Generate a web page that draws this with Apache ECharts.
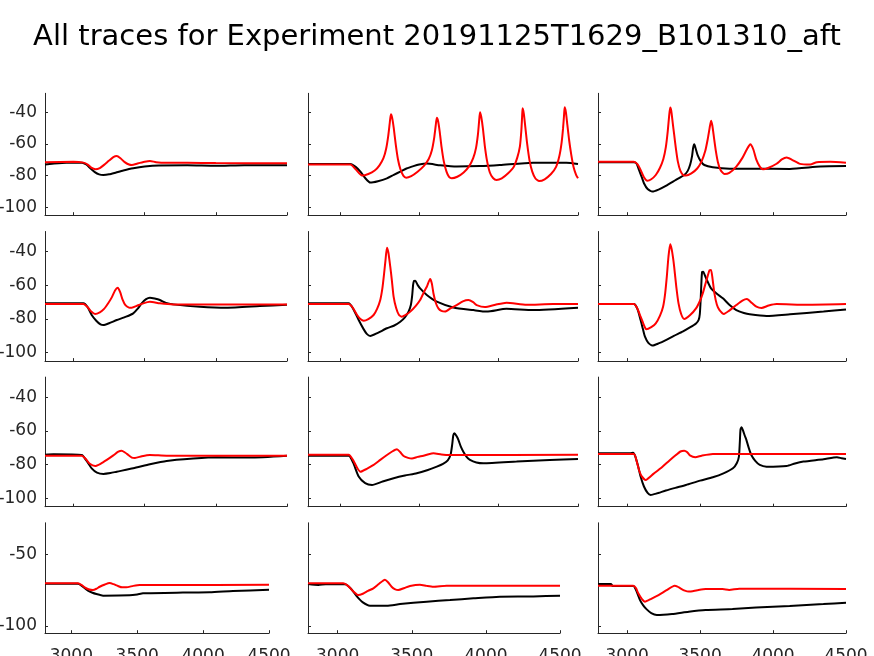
<!DOCTYPE html>
<html>
<head>
<meta charset="utf-8">
<script src="https://cdn.jsdelivr.net/npm/echarts@6/dist/echarts.min.js"></script>
<style>html,body{margin:0;padding:0;background:#fff;}#c{width:874px;height:656px;}</style>
</head>
<body>
<div id="c"></div>
<script>
const titleText = 'All traces for Experiment 20191125T1629_B101310_aft';
const xTicks = [3000, 3500, 4000, 4500];
const yTicksUpper = [-100, -80, -60, -40];
const yTicksLower = [-100, -50];

// Row 1
const black_r1c1 = [[2800,-73],[2850,-72.5],[2950,-71.8],[3060,-71.8],[3090,-73],[3120,-75.5],[3150,-77.8],[3180,-79.2],[3210,-79.6],[3250,-79.2],[3300,-78],[3350,-76.8],[3420,-75.4],[3500,-74.3],[3600,-73.6],[3800,-73.5],[4000,-73.8],[4200,-73.4],[4500,-73.4]];
const red_r1c1 = [[2800,-71.5],[3000,-71.3],[3070,-71.8],[3100,-73],[3125,-75],[3155,-76],[3185,-75.2],[3215,-73.2],[3250,-70.5],[3280,-68.3],[3304,-67.6],[3330,-69],[3360,-71.5],[3390,-73],[3410,-73.3],[3450,-72.3],[3500,-71.2],[3537,-70.7],[3580,-71.5],[3650,-71.9],[3800,-71.9],[4000,-72.1],[4500,-72.2]];
const black_r1c2 = [[2800,-72.6],[3067,-72.6],[3100,-74.5],[3130,-77.5],[3160,-81.5],[3192,-84.4],[3240,-83.5],[3297,-81.7],[3340,-79.5],[3381,-77.5],[3420,-75.5],[3464,-74],[3500,-73],[3548,-72.4],[3632,-73.5],[3736,-74.3],[3883,-74],[4008,-73.3],[4217,-71.8],[4427,-71.8],[4500,-72.6]];
const red_r1c2 = [[2800,-73],[3067,-73],[3100,-76],[3140,-80],[3180,-79],[3220,-76.8],[3250,-73.5],[3275,-69],[3292,-63],[3305,-55],[3315,-46.5],[3322,-41.3],[3330,-43.5],[3340,-50],[3352,-60],[3366,-69.5],[3382,-76],[3400,-80],[3418,-81.3],[3450,-80.3],[3490,-77.5],[3530,-73.8],[3560,-69.5],[3580,-64],[3594,-56.5],[3604,-48.5],[3611,-43.4],[3619,-45.5],[3629,-52],[3641,-62],[3655,-71],[3672,-77.5],[3688,-80.8],[3705,-81.7],[3740,-80.7],[3780,-78],[3815,-74],[3840,-69],[3858,-62.5],[3870,-54],[3877,-46],[3883,-40],[3891,-43],[3901,-50],[3913,-61],[3927,-70.5],[3945,-78],[3965,-81.5],[3987,-82.7],[4020,-81.7],[4060,-78.5],[4095,-74.5],[4118,-68.5],[4134,-61.7],[4143,-52],[4148,-43],[4151,-37.5],[4159,-41],[4168,-49],[4180,-60],[4195,-70.5],[4212,-77.5],[4232,-81.8],[4255,-83.4],[4290,-82.3],[4330,-79],[4362,-74.5],[4383,-67.5],[4397,-59],[4406,-50],[4412,-42],[4416,-36.8],[4424,-40],[4433,-48],[4444,-57.5],[4458,-67],[4472,-74.5],[4488,-79.5],[4500,-81.7]];
const black_r1c3 = [[2800,-71.6],[3046,-71.6],[3065,-72.5],[3081,-76.4],[3100,-81],[3115,-84.8],[3140,-88.5],[3173,-90.1],[3215,-88.8],[3265,-86.5],[3334,-82.7],[3391,-79.6],[3415,-77],[3432,-73],[3445,-67.5],[3452,-62.5],[3460,-60.2],[3470,-63],[3483,-67],[3505,-71],[3529,-73.3],[3587,-74.7],[3702,-75.6],[3886,-75.6],[4116,-75.8],[4323,-74.3],[4500,-74]];
const red_r1c3 = [[2800,-71.2],[3046,-71.2],[3070,-72.8],[3092,-76.4],[3115,-81],[3138,-83.2],[3165,-82.3],[3196,-79.6],[3225,-75],[3248,-69.5],[3265,-62],[3278,-52],[3288,-42],[3295,-37],[3302,-39],[3312,-46.5],[3322,-54],[3334,-63],[3347,-71],[3365,-77],[3385,-79.7],[3403,-80],[3440,-78.6],[3480,-75.5],[3510,-71],[3535,-64.5],[3552,-57],[3565,-50],[3575,-45.3],[3584,-48.5],[3595,-56],[3608,-64.5],[3622,-71.5],[3640,-76.5],[3667,-79],[3700,-78.3],[3748,-74.3],[3790,-68.8],[3820,-63.5],[3844,-60.2],[3865,-63.5],[3886,-70.1],[3910,-74.5],[3932,-76],[3970,-75],[4024,-72.5],[4060,-69.8],[4093,-68.6],[4130,-70],[4185,-72.6],[4254,-73],[4300,-71.5],[4392,-71.2],[4500,-71.8]];
// Row 2
const black_r2c1 = [[2800,-70.7],[3070,-70.7],[3100,-73],[3128,-77.6],[3160,-81],[3190,-83.2],[3210,-83.6],[3250,-82.5],[3304,-80.6],[3370,-78.6],[3420,-76.6],[3450,-74],[3479,-70.7],[3510,-68.2],[3537,-67.3],[3570,-67.8],[3607,-68.7],[3650,-70.5],[3701,-71.3],[3888,-72.7],[4075,-73.3],[4308,-72.3],[4500,-71.5]];
const red_r2c1 = [[2800,-71.1],[3070,-71.1],[3100,-73],[3125,-75.5],[3152,-77],[3185,-76],[3215,-74],[3245,-70.5],[3270,-67],[3292,-63],[3311,-61.4],[3328,-64],[3345,-68.5],[3365,-71.8],[3390,-73.2],[3409,-73.3],[3450,-72],[3491,-70.7],[3537,-69.8],[3607,-70.7],[3701,-71.3],[4500,-71.3]];
const black_r2c2 = [[2800,-70.7],[3056,-70.7],[3085,-74],[3119,-80.6],[3150,-86],[3170,-88.8],[3192,-90.1],[3240,-88.2],[3297,-85.5],[3340,-84],[3381,-81.6],[3410,-79],[3433,-75.6],[3448,-71.5],[3456,-66],[3462,-59.5],[3468,-57.3],[3475,-57.2],[3490,-59.7],[3506,-61.8],[3548,-65.7],[3611,-69.7],[3715,-73.1],[3841,-74.7],[3925,-75.6],[4050,-73.9],[4217,-74.7],[4500,-73.3]];
const red_r2c2 = [[2800,-71.1],[3056,-71.1],[3080,-73],[3109,-77.6],[3130,-80],[3151,-81],[3180,-80],[3213,-77.6],[3235,-74],[3255,-68.7],[3268,-62],[3278,-54],[3288,-45],[3297,-37.6],[3306,-40.5],[3318,-48.9],[3328,-57],[3339,-66.7],[3355,-73.5],[3372,-77.5],[3391,-78.6],[3420,-77.3],[3444,-75.6],[3480,-72],[3506,-68.7],[3530,-64],[3548,-60.8],[3569,-56.2],[3580,-59],[3590,-64.8],[3605,-70.5],[3621,-73.7],[3640,-75.2],[3663,-75.6],[3700,-73.5],[3736,-71.7],[3775,-69.5],[3810,-68.7],[3840,-70],[3862,-71.7],[3914,-72.9],[3980,-71.5],[4050,-70.3],[4176,-71.5],[4343,-71.1],[4500,-71.1]];
const black_r2c3 = [[2800,-71.1],[3046,-71.1],[3070,-74],[3092,-80.6],[3108,-86],[3122,-90.5],[3145,-94.2],[3173,-95.8],[3215,-94.5],[3265,-92.5],[3320,-90],[3380,-87.5],[3430,-85],[3472,-82.6],[3490,-80.5],[3498,-77],[3504,-68],[3510,-56],[3514,-52],[3522,-51.9],[3530,-53.5],[3541,-55.8],[3575,-61.8],[3615,-65],[3656,-67.7],[3700,-71.5],[3748,-74.7],[3800,-76.4],[3840,-77.2],[3955,-78.2],[4116,-77.2],[4346,-75.6],[4500,-74.3]];
const red_r2c3 = [[2800,-71.1],[3046,-71.1],[3068,-73.5],[3092,-78.6],[3112,-83],[3131,-86.1],[3165,-84.8],[3196,-82.6],[3225,-78],[3246,-72.7],[3260,-65],[3272,-54.5],[3283,-43],[3295,-35.6],[3305,-38.5],[3315,-44],[3322,-48.9],[3337,-61],[3352,-70.7],[3370,-77],[3391,-80],[3430,-77.8],[3472,-73.7],[3500,-69],[3518,-64.8],[3540,-58],[3555,-53.5],[3565,-51],[3575,-50.9],[3585,-56],[3598,-64.8],[3615,-71.5],[3633,-74.7],[3663,-77],[3700,-75],[3748,-71.7],[3790,-69],[3821,-68.1],[3855,-70.5],[3886,-72.7],[3920,-73.5],[3970,-72],[4024,-71.1],[4231,-71.5],[4500,-71.1]];
// Row 3
const black_r3c1 = [[2800,-74.1],[2860,-73.9],[3058,-74.3],[3090,-77.5],[3128,-82.2],[3165,-84.7],[3210,-85.5],[3260,-85],[3304,-84.2],[3420,-82.2],[3537,-79.8],[3654,-77.8],[3841,-76.4],[4005,-75.6],[4238,-75.8],[4500,-74.7]];
const red_r3c1 = [[2800,-74.7],[3058,-74.7],[3085,-76.5],[3115,-79.5],[3152,-80.8],[3190,-79.5],[3234,-77.2],[3280,-74.5],[3315,-72.3],[3339,-71.7],[3362,-72.8],[3386,-74.3],[3410,-75.8],[3432,-76],[3480,-75],[3537,-74.3],[3654,-74.7],[4500,-74.7]];
const black_r3c2 = [[2800,-74.7],[3056,-74.7],[3085,-79],[3119,-87.1],[3160,-91],[3203,-92.1],[3270,-90],[3339,-88.1],[3410,-86.5],[3485,-85.1],[3550,-83.3],[3611,-81.2],[3650,-79.6],[3680,-77.5],[3698,-74],[3708,-68],[3715,-62.5],[3722,-61.4],[3735,-63],[3747,-65.3],[3763,-69.5],[3778,-72.3],[3800,-75.5],[3820,-77.2],[3860,-78.7],[3904,-79.2],[4113,-78.2],[4322,-77.2],[4500,-76.6]];
const red_r3c2 = [[2800,-74.1],[3056,-74.1],[3085,-77.5],[3110,-82],[3130,-84.2],[3170,-82.5],[3213,-80.2],[3255,-77.2],[3297,-74.3],[3330,-72.2],[3360,-70.9],[3380,-72.5],[3402,-74.9],[3430,-76],[3454,-76.4],[3490,-75.4],[3527,-74.7],[3560,-73.8],[3590,-73.3],[3640,-74],[3695,-74.3],[4500,-74.1]];
const black_r3c3 = [[2800,-73.3],[3020,-73.3],[3040,-73],[3055,-75],[3075,-81],[3092,-87.1],[3115,-93],[3140,-96.8],[3161,-98],[3200,-97.2],[3265,-95.4],[3330,-93.8],[3403,-92.1],[3500,-89.5],[3587,-87.5],[3660,-85.2],[3725,-82.2],[3752,-79],[3766,-75.2],[3772,-67],[3777,-59],[3785,-57.8],[3795,-60],[3807,-63],[3817,-65.3],[3835,-70.5],[3851,-74.3],[3878,-77.8],[3909,-80.2],[3955,-81.2],[4093,-80.8],[4150,-79.3],[4208,-78.2],[4346,-76.8],[4438,-75.6],[4470,-76.2],[4500,-76.6]];
const red_r3c3 = [[2800,-73.7],[3046,-73.7],[3065,-78],[3081,-83.2],[3100,-87],[3127,-89.1],[3180,-85.5],[3242,-81.2],[3290,-77.5],[3334,-74.3],[3365,-72.2],[3391,-71.7],[3410,-72.5],[3430,-74.5],[3467,-75.6],[3510,-74.7],[3587,-73.7],[4500,-73.7]];
// Row 4
const black_r4c1 = [[2800,-70.5],[3051,-70.5],[3090,-72.8],[3126,-75.3],[3160,-76.8],[3190,-77.7],[3240,-78.8],[3442,-78.6],[3500,-78],[3544,-77.2],[3847,-76.7],[4050,-76.5],[4227,-75.6],[4500,-74.7]];
const red_r4c1 = [[2800,-70.2],[3051,-70.2],[3080,-71.5],[3101,-73],[3130,-74.3],[3164,-74.9],[3190,-74],[3215,-72.6],[3255,-71],[3291,-70],[3320,-70.8],[3354,-72.1],[3385,-73],[3417,-73],[3470,-72],[3519,-71.4],[3721,-71.4],[4500,-71.2]];
const black_r4c2 = [[2800,-70.7],[2870,-71.3],[2920,-70.9],[3050,-70.9],[3090,-74],[3128,-79.1],[3170,-83.5],[3218,-85.8],[3331,-85.8],[3421,-84.7],[3601,-83],[3758,-81.9],[3916,-80.7],[4095,-79.5],[4320,-79.4],[4500,-78.8]];
const red_r4c2 = [[2800,-70.2],[3038,-70.2],[3070,-72],[3105,-75.8],[3139,-78.4],[3170,-77.5],[3205,-75.5],[3241,-73.7],[3280,-70.5],[3319,-67.7],[3340,-69.5],[3364,-72.6],[3385,-74.2],[3409,-74.9],[3450,-73.5],[3488,-72.1],[3555,-71.2],[3600,-72],[3645,-72.6],[3735,-71.9],[4500,-71.9]];
const black_r4c3 = [[2800,-70.7],[2890,-70.7],[2900,-72.1],[3042,-72.1],[3065,-76],[3088,-81.9],[3110,-85.6],[3134,-88.4],[3165,-91],[3203,-92.3],[3307,-91.6],[3422,-90],[3538,-88.8],[3722,-88.1],[3884,-87],[4114,-86],[4345,-84.7],[4500,-83.7]];
const red_r4c3 = [[2800,-71.9],[3042,-71.9],[3060,-73.5],[3076,-77.2],[3100,-81],[3122,-83],[3165,-81],[3215,-78.4],[3270,-75],[3325,-71.9],[3345,-72.5],[3365,-73.7],[3395,-75.3],[3422,-76],[3480,-75],[3538,-74.2],[3653,-74.2],[3699,-74.8],[3768,-74],[4500,-74.2]];

const blackSeries = [
  [black_r1c1, black_r1c2, black_r1c3],
  [black_r2c1, black_r2c2, black_r2c3],
  [black_r3c1, black_r3c2, black_r3c3],
  [black_r4c1, black_r4c2, black_r4c3]
];
const redSeries = [
  [red_r1c1, red_r1c2, red_r1c3],
  [red_r2c1, red_r2c2, red_r2c3],
  [red_r3c1, red_r3c2, red_r3c3],
  [red_r4c1, red_r4c2, red_r4c3]
];

// layout (pixels)
const colLeft = [45, 308, 598];
const colWidthUpper = [242, 270, 248];
const colWidthLower = [224, 252, 248];
const rowTop = [93.3, 231.5, 377.1, 522.8];
const rowHeight = [121.9, 129.6, 129.6, 110.4];

const axisColor = '#262626';
const font = 'DejaVu Sans';
const grids = [], xAxes = [], yAxes = [], series = [];
for (let r = 0; r < 4; r++) {
  for (let c = 0; c < 3; c++) {
    const i = r * 3 + c;
    grids.push({
      left: colLeft[c], top: rowTop[r],
      width: r === 3 ? colWidthLower[c] : colWidthUpper[c],
      height: rowHeight[r], containLabel: false, outerBoundsMode: 'none'
    });
    xAxes.push({
      type: 'value', gridIndex: i, min: 2800, max: 4500,
      axisLine: { show: true, onZero: false, lineStyle: { color: axisColor, width: 1 } },
      axisTick: { show: true, inside: true, length: 3, lineStyle: { color: axisColor }, customValues: xTicks },
      axisLabel: { show: r === 3, customValues: xTicks, color: axisColor, fontFamily: font, fontSize: 17, margin: 15,
        formatter: function (v) { return String(v); } },
      splitLine: { show: false }
    });
    const yt = r === 3 ? yTicksLower : yTicksUpper;
    yAxes.push({
      type: 'value', gridIndex: i, min: -105, max: -28,
      axisLine: { show: true, onZero: false, lineStyle: { color: axisColor, width: 1 } },
      axisTick: { show: true, inside: true, length: 3, lineStyle: { color: axisColor }, customValues: yt },
      axisLabel: { show: c === 0, customValues: yt, color: axisColor, fontFamily: font, fontSize: 17, margin: 8,
        formatter: function (v) { return String(v); } },
      splitLine: { show: false }
    });
    series.push({
      type: 'line', xAxisIndex: i, yAxisIndex: i, data: blackSeries[r][c],
      showSymbol: false, smooth: 0.2, silent: true,
      lineStyle: { color: '#000000', width: 2 }, animation: false
    });
    series.push({
      type: 'line', xAxisIndex: i, yAxisIndex: i, data: redSeries[r][c],
      showSymbol: false, smooth: 0.2, silent: true,
      lineStyle: { color: '#ff0000', width: 2 }, animation: false
    });
  }
}

const chart = echarts.init(document.getElementById('c'), null, { renderer: 'canvas' });
chart.setOption({
  backgroundColor: '#ffffff',
  animation: false,
  title: {
    text: titleText, left: 'center', top: 18,
    textStyle: { color: '#000000', fontFamily: font, fontSize: 29, fontWeight: 'normal' }
  },
  grid: grids, xAxis: xAxes, yAxis: yAxes, series: series
});
</script>
</body>
</html>
